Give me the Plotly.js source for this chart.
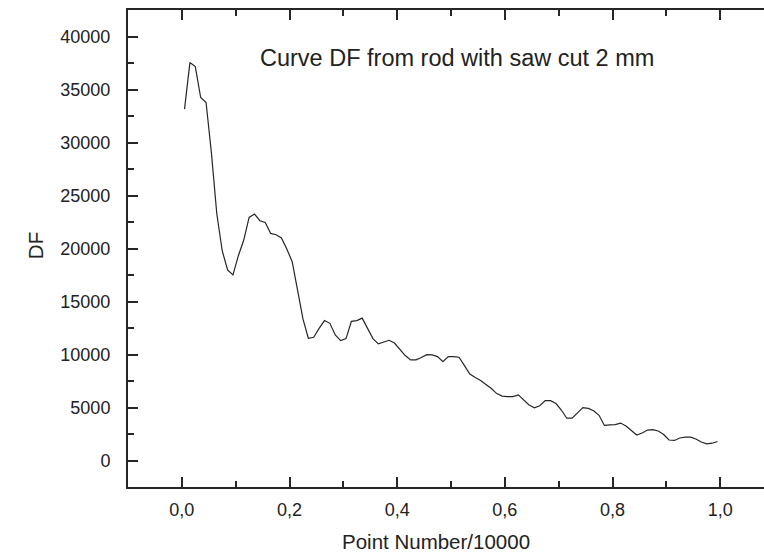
<!DOCTYPE html>
<html>
<head>
<meta charset="utf-8">
<script src="https://cdn.plot.ly/plotly-3.0.1.min.js"></script>
<style>
html, body { margin: 0; padding: 0; overflow: hidden; background: #fff; }
#chart { width: 800px; height: 557px; }
</style>
</head>
<body>
<div id="chart"></div>
<script>
// Point Number/10000 (x) and DF (y)
const pointNumber = [
  0.005, 0.015, 0.025, 0.035, 0.045, 0.055, 0.065, 0.075, 0.085, 0.095,
  0.105, 0.115, 0.125, 0.135, 0.145, 0.155, 0.165, 0.175, 0.185, 0.195,
  0.205, 0.215, 0.225, 0.235, 0.245, 0.255, 0.265, 0.275, 0.285, 0.295,
  0.305, 0.315, 0.325, 0.335, 0.345, 0.355, 0.365, 0.375, 0.385, 0.395,
  0.405, 0.415, 0.425, 0.435, 0.445, 0.455, 0.465, 0.475, 0.485, 0.495,
  0.505, 0.515, 0.525, 0.535, 0.545, 0.555, 0.565, 0.575, 0.585, 0.595,
  0.605, 0.615, 0.625, 0.635, 0.645, 0.655, 0.665, 0.675, 0.685, 0.695,
  0.705, 0.715, 0.725, 0.735, 0.745, 0.755, 0.765, 0.775, 0.785, 0.795,
  0.805, 0.815, 0.825, 0.835, 0.845, 0.855, 0.865, 0.875, 0.885, 0.895,
  0.905, 0.915, 0.925, 0.935, 0.945, 0.955, 0.965, 0.975, 0.985, 0.995
];
const dfValues = [
  33150, 37540, 37160, 34240, 33770, 29000, 23250, 19790, 17970, 17500,
  19320, 20800, 22930, 23250, 22620, 22460, 21420, 21300, 20990, 19950,
  18750, 16020, 13360, 11530, 11620, 12470, 13200, 12940, 11850, 11310,
  11500, 13130, 13200, 13430, 12400, 11500, 11000, 11160, 11340, 11080,
  10500, 9900, 9490, 9490, 9710, 9990, 9960, 9800, 9330, 9800,
  9800, 9740, 8950, 8150, 7820, 7540, 7160, 6790, 6310, 6080,
  6030, 6030, 6190, 5750, 5230, 4970, 5160, 5650, 5650, 5370,
  4760, 3990, 3990, 4500, 4990, 4910, 4690, 4260, 3310, 3370,
  3390, 3530, 3250, 2830, 2400, 2590, 2870, 2920, 2780, 2450,
  1930, 1890, 2120, 2210, 2210, 2030, 1740, 1570, 1630, 1790
];
const xTickVals = [0, 0.2, 0.4, 0.6, 0.8, 1.0];
const xTickText = ['0,0', '0,2', '0,4', '0,6', '0,8', '1,0'];
const yTickVals = [0, 5000, 10000, 15000, 20000, 25000, 30000, 35000, 40000];
const yTickText = ['0', '5000', '10000', '15000', '20000', '25000', '30000', '35000', '40000'];

const chartNote = 'Curve DF from rod with saw cut 2 mm';
const xTitle = 'Point Number/10000';
const yTitle = 'DF';

const FONT = 'Liberation Sans, Arial, sans-serif';

const axisCommon = {
  showgrid: false,
  zeroline: false,
  showline: true,
  linecolor: '#262626',
  linewidth: 2,
  mirror: 'ticks',
  ticks: 'inside',
  ticklen: 10,
  tickwidth: 2,
  tickcolor: '#262626',
  tickmode: 'array',
  tickfont: { family: FONT, size: 18, color: '#222' }
};

const trace = {
  x: pointNumber,
  y: dfValues,
  type: 'scatter',
  mode: 'lines',
  line: { color: '#262626', width: 1.2 },
  hoverinfo: 'skip'
};

const layout = {
  width: 800,
  height: 557,
  margin: { l: 128, r: 26, t: 10, b: 70 },
  paper_bgcolor: '#fff',
  plot_bgcolor: '#fff',
  showlegend: false,
  xaxis: Object.assign({}, axisCommon, {
    range: [-0.1, 1.1],
    tickvals: xTickVals,
    ticktext: xTickText,
    ticklabelstandoff: 5,
    minor: { tickmode: 'linear', tick0: 0, dtick: 0.1, ticks: 'inside', ticklen: 6, tickwidth: 2, tickcolor: '#262626' }
  }),
  yaxis: Object.assign({}, axisCommon, {
    range: [-2500, 42500],
    tickvals: yTickVals,
    ticktext: yTickText,
    ticklabelstandoff: 12,
    minor: { tickmode: 'linear', tick0: 0, dtick: 2500, ticks: 'inside', ticklen: 6, tickwidth: 2, tickcolor: '#262626' }
  }),
  annotations: [
    {
      text: chartNote, xref: 'x', yref: 'y', x: 0.1418, y: 37980,
      xanchor: 'left', yanchor: 'middle', showarrow: false,
      font: { family: FONT, size: 23.5, color: '#222' }
    },
    {
      text: xTitle, xref: 'paper', yref: 'paper', x: 0.4768, y: -0.1153,
      xanchor: 'center', yanchor: 'middle', showarrow: false,
      font: { family: FONT, size: 20.5, color: '#222' }
    },
    {
      text: yTitle, xref: 'paper', yref: 'paper', x: -0.144, y: 0.507,
      xanchor: 'center', yanchor: 'middle', showarrow: false, textangle: -90,
      font: { family: FONT, size: 20.5, color: '#222' }
    }
  ]
};

Plotly.newPlot('chart', [trace], layout, { displayModeBar: false, staticPlot: true });
</script>
</body>
</html>
